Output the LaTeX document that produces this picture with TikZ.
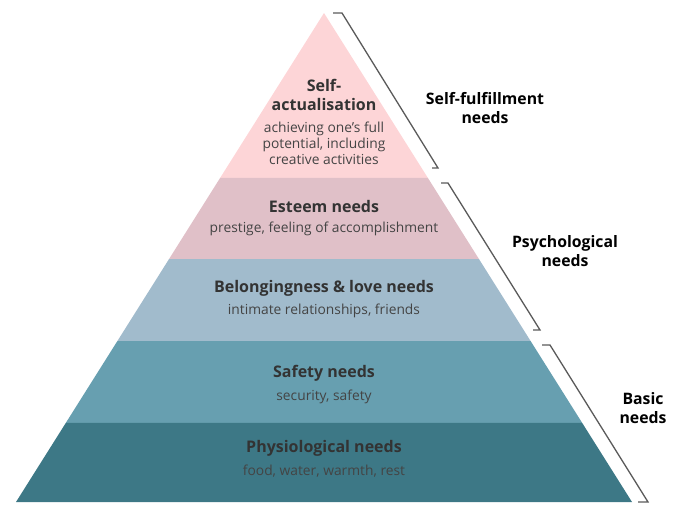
\documentclass[tikz,border=0pt]{standalone}
\usepackage{fontspec}
\setmainfont{Open Sans}
\usetikzlibrary{positioning, calc}

\definecolor{selfcol}{RGB}{253,213,215}
\definecolor{esteemcol}{RGB}{224,192,200}
\definecolor{lovecol}{RGB}{161,187,204}
\definecolor{safecol}{RGB}{103,159,176}
\definecolor{physcol}{RGB}{61,120,134}
\definecolor{titlecol}{RGB}{51,51,51}
\definecolor{desccol}{RGB}{68,68,68}
\definecolor{brackcol}{RGB}{90,90,90}

\begin{document}
\begin{tikzpicture}[
        x=1pt, y=-1pt,
        node distance=1pt,
        title/.style={font=\bfseries\fontsize{16}{19}\selectfont, text=titlecol, align=center, inner sep=0pt},
        desc/.style={font=\fontsize{13.8}{16}\selectfont, text=desccol, align=center, inner sep=0pt},
        group/.style={font=\bfseries\fontsize{15.8}{19}\selectfont, text=black, align=center, inner sep=0pt},
        brace/.style={draw=brackcol, line width=1.3pt}
    ]
    \useasboundingbox (0,0) rectangle (687,523);

    % pyramid corners
    \coordinate (Apex) at (324,13);
    \coordinate (BL) at (16,502);
    \coordinate (BR) at (632,502);

    % layers
    \fill[selfcol] (Apex) -- ($(Apex)!0.3374!(BR)$) -- ($(Apex)!0.3374!(BL)$) -- cycle;
    \fill[esteemcol] ($(Apex)!0.3374!(BL)$) -- ($(Apex)!0.3374!(BR)$) -- ($(Apex)!0.5031!(BR)$) -- ($(Apex)!0.5031!(BL)$) -- cycle;
    \fill[lovecol] ($(Apex)!0.5031!(BL)$) -- ($(Apex)!0.5031!(BR)$) -- ($(Apex)!0.6708!(BR)$) -- ($(Apex)!0.6708!(BL)$) -- cycle;
    \fill[safecol] ($(Apex)!0.6708!(BL)$) -- ($(Apex)!0.6708!(BR)$) -- ($(Apex)!0.8384!(BR)$) -- ($(Apex)!0.8384!(BL)$) -- cycle;
    \fill[physcol] ($(Apex)!0.8384!(BL)$) -- ($(Apex)!0.8384!(BR)$) -- (BR) -- (BL) -- cycle;

    % texts in the layers
    \node[title] (SelfT) at (324,95) {Self-\\actualisation};
    \node[desc, below=11pt of SelfT] (SelfD) {achieving one’s full\\potential, including\\creative activities};
    \node[title] (EsteemT) at (324,206) {Esteem needs};
    \node[desc, below=9pt of EsteemT] (EsteemD) {prestige, feeling of accomplishment};
    \node[title] (LoveT) at (324,288) {Belongingness \& love needs};
    \node[desc, below=8pt of LoveT] (LoveD) {intimate relationships, friends};
    \node[title] (SafeT) at (324,373) {Safety needs};
    \node[desc, below=8pt of SafeT] (SafeD) {security, safety};
    \node[title] (PhysT) at (324,448) {Physiological needs};
    \node[desc, below=9pt of PhysT] (PhysD) {food, water, warmth, rest};

    % brackets
    \draw[brace] (333,13) -- (342,13) -- (438,168) -- (432,168);
    \draw[brace] (441,183) -- (448,183) -- (540,330) -- (533,330);
    \draw[brace] (542,345) -- (550,345) -- (648,502) -- (638,502);

    % group labels
    \node[group] (Fulfil) at (485,108) {Self-fulfillment\\needs};
    \node[group] (Psych) at (565,251) {Psychological\\needs};
    \node[group] (Basic) at (643,408) {Basic\\needs};

\end{tikzpicture}
\end{document}
